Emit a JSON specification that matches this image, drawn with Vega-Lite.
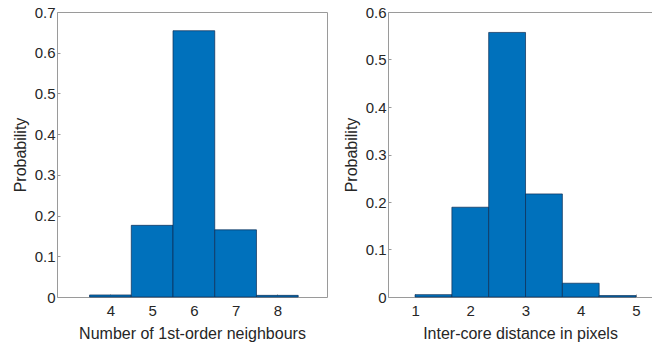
{
  "$schema": "https://vega.github.io/schema/vega-lite/v6.json",
  "padding": {"left": 11, "top": 4, "right": 0, "bottom": 0},
  "background": "white",
  "config": {
    "font": "Liberation Sans",
    "view": {"stroke": "#9a9a9a", "strokeWidth": 1},
    "axis": {
      "domain": false,
      "grid": false,
      "ticks": true,
      "tickSize": -3,
      "tickColor": "#9a9a9a",
      "labelFont": "Liberation Sans",
      "titleFont": "Liberation Sans",
      "labelFontSize": 15,
      "titleFontSize": 16,
      "labelColor": "#262626",
      "titleColor": "#262626",
      "titleFontWeight": "normal"
    },
    "concat": {"spacing": 14}
  },
  "hconcat": [
    {
      "width": 270,
      "height": 285,
      "data": {"values": [
        {"start": 3.5, "end": 4.5, "p": 0.005},
        {"start": 4.5, "end": 5.5, "p": 0.176},
        {"start": 5.5, "end": 6.5, "p": 0.654},
        {"start": 6.5, "end": 7.5, "p": 0.165},
        {"start": 7.5, "end": 8.5, "p": 0.004}
      ]},
      "mark": {"type": "rect", "fill": "#0071BC", "stroke": "#0b2c55", "strokeWidth": 0.7},
      "encoding": {
        "x": {"field": "start", "type": "quantitative",
              "scale": {"domain": [2.72, 9.19], "nice": false, "zero": false},
              "axis": {"values": [4, 5, 6, 7, 8], "title": "Number of 1st-order neighbours", "labelPadding": 9, "titlePadding": 7}},
        "x2": {"field": "end"},
        "y": {"field": "p", "type": "quantitative",
              "scale": {"domain": [0, 0.7], "nice": false},
              "axis": {"values": [0, 0.1, 0.2, 0.3, 0.4, 0.5, 0.6, 0.7], "title": "Probability", "labelPadding": 5, "titlePadding": 6, "format": "~g"}},
        "y2": {"datum": 0}
      }
    },
    {
      "width": 264,
      "height": 285,
      "data": {"values": [
        {"start": 1.0, "end": 1.667, "p": 0.005},
        {"start": 1.667, "end": 2.333, "p": 0.189},
        {"start": 2.333, "end": 3.0, "p": 0.557},
        {"start": 3.0, "end": 3.667, "p": 0.217},
        {"start": 3.667, "end": 4.333, "p": 0.029},
        {"start": 4.333, "end": 5.0, "p": 0.003}
      ]},
      "mark": {"type": "rect", "fill": "#0071BC", "stroke": "#0b2c55", "strokeWidth": 0.7},
      "encoding": {
        "x": {"field": "start", "type": "quantitative",
              "scale": {"domain": [0.51, 5.29], "nice": false, "zero": false},
              "axis": {"values": [1, 2, 3, 4, 5], "title": "Inter-core distance in pixels", "labelPadding": 9, "titlePadding": 7}},
        "x2": {"field": "end"},
        "y": {"field": "p", "type": "quantitative",
              "scale": {"domain": [0, 0.6], "nice": false},
              "axis": {"values": [0, 0.1, 0.2, 0.3, 0.4, 0.5, 0.6], "title": "Probability", "labelPadding": 5, "titlePadding": 6, "format": "~g"}},
        "y2": {"datum": 0}
      }
    }
  ]
}
